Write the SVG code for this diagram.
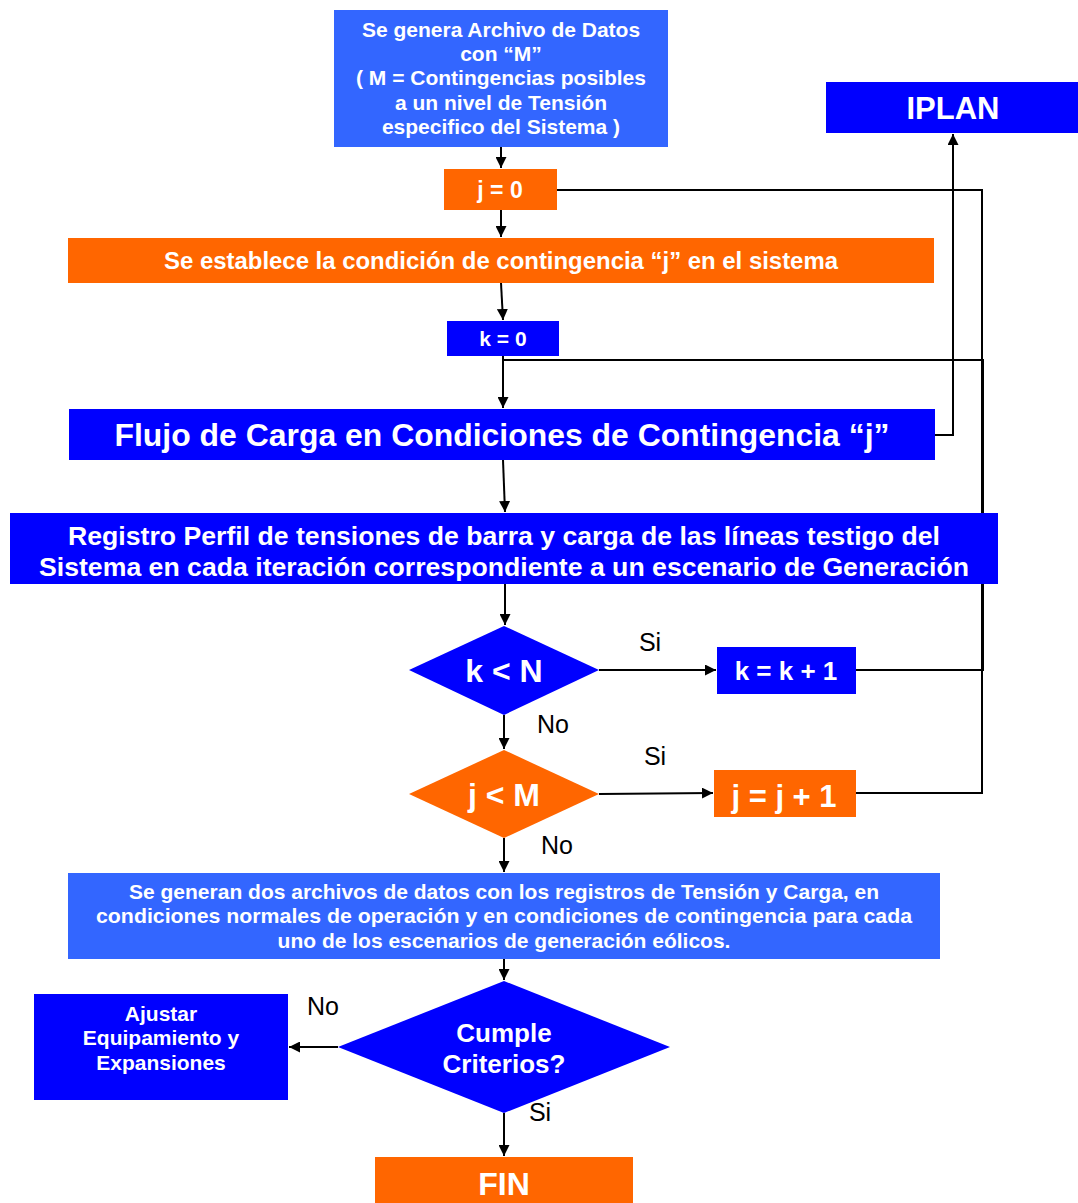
<svg xmlns="http://www.w3.org/2000/svg" width="1078" height="1203" viewBox="0 0 1078 1203">
<defs>
<marker id="ah" viewBox="0 0 10 10" refX="10" refY="5" markerWidth="11" markerHeight="11" markerUnits="userSpaceOnUse" orient="auto">
<path d="M0,0 L10,5 L0,10 z" fill="#000"/>
</marker>
<style>
.t{font-family:"Liberation Sans",Arial,sans-serif;font-weight:bold;fill:#fff;text-anchor:middle}
.l{font-family:"Liberation Sans",Arial,sans-serif;fill:#000;font-size:25px;text-anchor:middle}
.c{fill:none;stroke:#000;stroke-width:2}
.a{marker-end:url(#ah)}
.lb{fill:#3366FF}
.db{fill:#0000FF}
.or{fill:#FF6600}
</style>
</defs>
<rect width="1078" height="1203" fill="#fff"/>
<g id="connectors">
<path class="c a" d="M501,147 V168"/>
<path class="c a" d="M501,210 V237"/>
<path class="c a" d="M501,283 L503,320"/>
<path class="c a" d="M503,356 V408"/>
<path class="c a" d="M503,460 L505,512"/>
<path class="c a" d="M505,584 V625"/>
<path class="c a" d="M599,670 H716"/>
<path class="c a" d="M504,715 V749"/>
<path class="c a" d="M599,794 L713,793"/>
<path class="c a" d="M504,838 V872"/>
<path class="c a" d="M504,959 V980"/>
<path class="c a" d="M338,1047 H289"/>
<path class="c a" d="M504,1113 V1156"/>
<path class="c a" d="M935,435 H953 V134"/>
<path class="c" d="M856,670 H983 V360 H503"/>
<path class="c" d="M856,793 H982 V190 H557"/>
<text class="l" x="650" y="651">Si</text>
<text class="l" x="553" y="733">No</text>
<text class="l" x="655" y="765">Si</text>
<text class="l" x="557" y="854">No</text>
<text class="l" x="323" y="1015">No</text>
<text class="l" x="540" y="1121">Si</text>
</g>
<g id="n_datos">
<rect class="lb" x="334" y="10" width="334" height="137"/>
<text class="t" font-size="21"><tspan x="501" y="37">Se genera Archivo de Datos</tspan><tspan x="501" y="61">con “M”</tspan><tspan x="501" y="85">( M = Contingencias posibles</tspan><tspan x="501" y="110">a un nivel de Tensión</tspan><tspan x="501" y="134">especifico del Sistema )</tspan></text>
</g>
<g id="n_iplan">
<rect class="db" x="826" y="82" width="252" height="51"/>
<text class="t" font-size="31" x="953" y="119">IPLAN</text>
</g>
<g id="n_j0">
<rect class="or" x="444" y="169" width="113" height="41"/>
<text class="t" font-size="23" x="500" y="198">j = 0</text>
</g>
<g id="n_establece">
<rect class="or" x="68" y="238" width="866" height="45"/>
<text class="t" font-size="23" x="501" y="269" textLength="674" lengthAdjust="spacingAndGlyphs">Se establece la condición de contingencia “j” en el sistema</text>
</g>
<g id="n_k0">
<rect class="db" x="447" y="321" width="112" height="35"/>
<text class="t" font-size="21" x="503" y="346">k = 0</text>
</g>
<g id="n_flujo">
<rect class="db" x="69" y="409" width="866" height="51"/>
<text class="t" font-size="32" x="502" y="446" textLength="775" lengthAdjust="spacingAndGlyphs">Flujo de Carga en Condiciones de Contingencia “j”</text>
</g>
<g id="n_registro">
<rect class="db" x="10" y="513" width="988" height="71"/>
<text class="t" font-size="26"><tspan x="504" y="545" textLength="872" lengthAdjust="spacingAndGlyphs">Registro Perfil de tensiones de barra y carga de las líneas testigo del</tspan><tspan x="504" y="576" textLength="930" lengthAdjust="spacingAndGlyphs">Sistema en cada iteración correspondiente a un escenario de Generación</tspan></text>
</g>
<g id="n_kN">
<polygon class="db" points="504,626 599,670 504,715 409,670"/>
<text class="t" font-size="32" x="504" y="682">k &lt; N</text>
</g>
<g id="n_kk1">
<rect class="db" x="717" y="647" width="139" height="47"/>
<text class="t" font-size="26" x="786" y="680">k = k + 1</text>
</g>
<g id="n_jM">
<polygon class="or" points="504,750 599,794 504,838 409,794"/>
<text class="t" font-size="32" x="504" y="806">j &lt; M</text>
</g>
<g id="n_jj1">
<rect class="or" x="714" y="770" width="142" height="47"/>
<text class="t" font-size="31" x="784" y="807">j = j + 1</text>
</g>
<g id="n_generan">
<rect class="lb" x="68" y="873" width="872" height="86"/>
<text class="t" font-size="21"><tspan x="504" y="899">Se generan dos archivos de datos con los registros de Tensión y Carga, en</tspan><tspan x="504" y="923" textLength="816" lengthAdjust="spacingAndGlyphs">condiciones normales de operación y en condiciones de contingencia para cada</tspan><tspan x="504" y="948">uno de los escenarios de generación eólicos.</tspan></text>
</g>
<g id="n_cumple">
<polygon class="db" points="504,981 670,1047 504,1113 338,1047"/>
<text class="t" font-size="26"><tspan x="504" y="1042">Cumple</tspan><tspan x="504" y="1073">Criterios?</tspan></text>
</g>
<g id="n_ajustar">
<rect class="db" x="34" y="994" width="254" height="106"/>
<text class="t" font-size="21"><tspan x="161" y="1021">Ajustar</tspan><tspan x="161" y="1045">Equipamiento y</tspan><tspan x="161" y="1070">Expansiones</tspan></text>
</g>
<g id="n_fin">
<rect class="or" x="375" y="1157" width="258" height="46"/>
<text class="t" font-size="32" x="504" y="1195">FIN</text>
</g>
</svg>
